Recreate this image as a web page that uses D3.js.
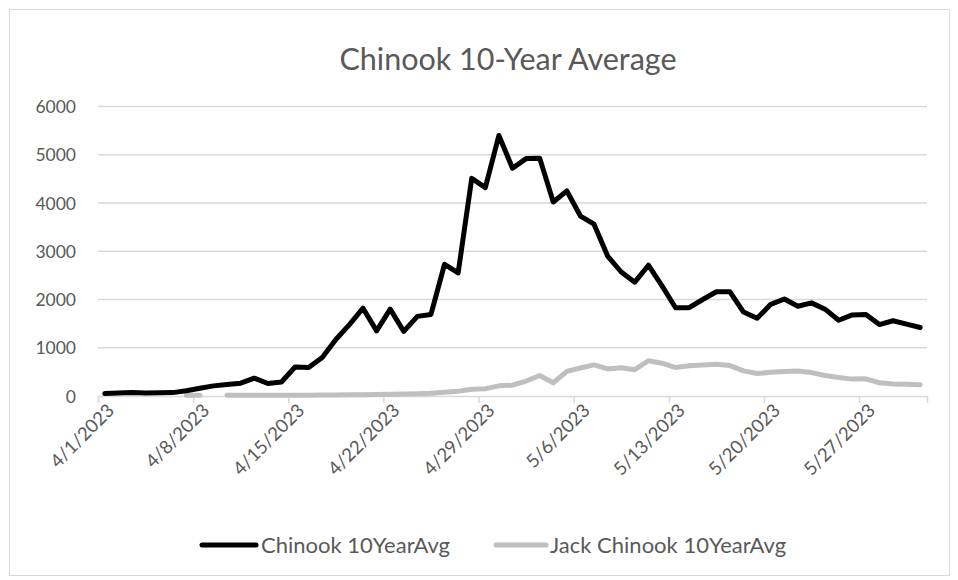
<!DOCTYPE html>
<html>
<head>
<meta charset="utf-8">
<script src="https://cdn.jsdelivr.net/npm/d3@7"></script>
<style>
  body { margin: 0; background: #fff; }
  text { font-family: Lato, "Open Sans", sans-serif; fill: #595959; }
</style>
</head>
<body>
<svg id="chart" width="958" height="580"></svg>
<script>
// one value per day, 4/1/2023 .. 5/31/2023
var days = d3.timeDay.range(new Date(2023, 3, 1), new Date(2023, 5, 1));

var chinook = [
  50, 60, 75, 60, 65, 70, 110, 160, 210, 240,
  265, 370, 260, 290, 600, 590, 800, 1170, 1480, 1820,
  1350, 1800, 1340, 1650, 1690, 2730, 2550, 4510, 4320, 5400,
  4720, 4920, 4930, 4020, 4250, 3730, 3560, 2900, 2570, 2360,
  2710, 2280, 1830, 1830, 2000, 2160, 2160, 1740, 1610, 1900,
  2010, 1860, 1930, 1800, 1570, 1680, 1690, 1480, 1560, 1490,
  1420
];

var jack = [
  null, null, null, null, null, null, 15, 15, null, 15,
  15, 15, 15, 15, 18, 18, 20, 22, 25, 28,
  30, 35, 40, 45, 55, 80, 100, 140, 150, 210,
  225, 310, 425, 275, 510, 580, 645, 560, 585, 545,
  730, 680, 590, 625, 640, 660, 630, 520, 465, 490,
  510, 520, 485, 425, 385, 350, 355, 275, 250, 245,
  235
];

var yTicks = [0, 1000, 2000, 3000, 4000, 5000, 6000];
var xTickLabels = ["4/1/2023", "4/8/2023", "4/15/2023", "4/22/2023", "4/29/2023",
                   "5/6/2023", "5/13/2023", "5/20/2023", "5/27/2023"];

var seriesNames = ["Chinook 10YearAvg", "Jack Chinook 10YearAvg"];
var black = "#000000";
var grey = "#bfbfbf";

var plot = {left: 98, right: 927, top: 106.5, bottom: 396};

var svg = d3.select("#chart");

/* chart border */
svg.append("rect")
    .attr("x", 9.5).attr("y", 9.5)
    .attr("width", 940).attr("height", 566)
    .attr("fill", "white")
    .attr("stroke", "#d9d9d9");

var x = d3.scaleTime()
    .domain([new Date(2023, 3, 1), new Date(2023, 5, 1)])
    .range([plot.left, plot.right]);

var y = d3.scaleLinear()
    .domain([0, 6000])
    .range([plot.bottom, plot.top]);

// points sit in the middle of each day
var mid = d => d3.timeHour.offset(d, 12);

/* gridlines */
svg.append("g")
    .selectAll("line")
    .data(yTicks.slice(1))
    .join("line")
    .attr("x1", plot.left).attr("x2", plot.right)
    .attr("y1", d => y(d)).attr("y2", d => y(d))
    .attr("stroke", "#d9d9d9")
    .attr("stroke-width", 1.5);

/* y labels */
svg.append("g")
    .selectAll("text")
    .data(yTicks)
    .join("text")
    .attr("x", 76)
    .attr("y", d => y(d) + 6.5)
    .attr("text-anchor", "end")
    .style("font-size", "17.5px")
    .text(d => d);

/* x axis */
var tickDates = xTickLabels.map(s => {
    var p = s.split("/");
    return new Date(+p[2], +p[0] - 1, +p[1]);
});

var xAxis = svg.append("g")
    .attr("transform", "translate(0," + plot.bottom + ")")
    .call(d3.axisBottom(x).tickValues(tickDates).tickSize(7).tickFormat(""));
xAxis.select(".domain").attr("stroke", "#d9d9d9").attr("stroke-width", 1.5);
xAxis.selectAll(".tick line").attr("stroke", "#d9d9d9").attr("stroke-width", 1.5);

svg.append("g")
    .selectAll("text")
    .data(tickDates)
    .join("text")
    .attr("transform", (d, i) => "translate(" + (x(mid(d)) + 6) + "," + (plot.bottom + 11) + ") rotate(-45)")
    .attr("text-anchor", "end")
    .attr("dy", "0.35em")
    .style("font-size", "18.5px")
    .text((d, i) => xTickLabels[i]);

/* lines */
var line = d3.line()
    .defined(d => d.v != null)
    .x(d => x(mid(d.date)))
    .y(d => y(d.v));

var jackData = days.map((d, i) => ({date: d, v: jack[i]}));
var chinookData = days.map((d, i) => ({date: d, v: chinook[i]}));

svg.append("path")
    .datum(jackData)
    .attr("d", line)
    .attr("fill", "none")
    .attr("stroke", grey)
    .attr("stroke-width", 5)
    .attr("stroke-linejoin", "round")
    .attr("stroke-linecap", "round");

svg.append("path")
    .datum(chinookData)
    .attr("d", line)
    .attr("fill", "none")
    .attr("stroke", black)
    .attr("stroke-width", 5)
    .attr("stroke-linejoin", "round")
    .attr("stroke-linecap", "round");

/* title */
svg.append("text")
    .attr("x", 508)
    .attr("y", 70)
    .attr("text-anchor", "middle")
    .style("font-size", "30.5px")
    .text("Chinook 10-Year Average");

/* legend */
var legend = svg.append("g");
var legendItems = [
    {name: seriesNames[0], color: black, x0: 202, x1: 256, tx: 261},
    {name: seriesNames[1], color: grey, x0: 496, x1: 546, tx: 550}
];
legend.selectAll("line")
    .data(legendItems)
    .join("line")
    .attr("x1", d => d.x0).attr("x2", d => d.x1)
    .attr("y1", 545).attr("y2", 545)
    .attr("stroke", d => d.color)
    .attr("stroke-width", 5)
    .attr("stroke-linecap", "round");
legend.selectAll("text")
    .data(legendItems)
    .join("text")
    .attr("x", d => d.tx)
    .attr("y", 553)
    .style("font-size", "22px")
    .text(d => d.name);
</script>
</body>
</html>
